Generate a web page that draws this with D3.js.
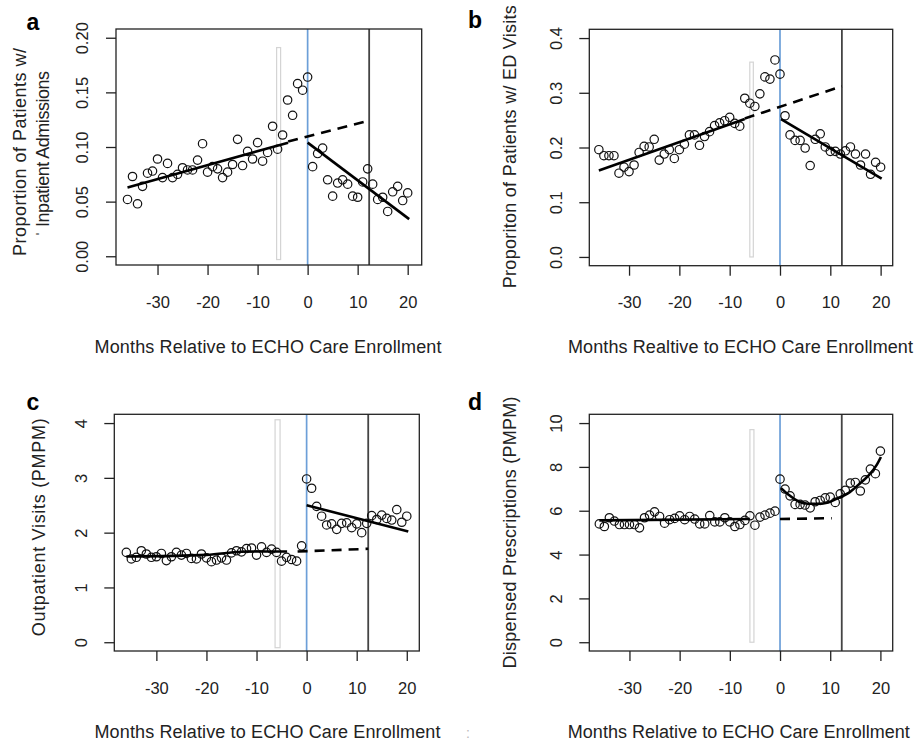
<!DOCTYPE html>
<meta charset="utf-8">
<style>
  body { margin: 0; background: #fff; }
  text { font-family: "Liberation Sans", Arial, sans-serif; fill: #222; }
  .tick text { font-size: 16.5px; }
  .tick line { stroke: #222; stroke-width: 1.3px; }
  .title { font-size: 18px; }
  .panel-label { font-size: 23px; font-weight: bold; fill: #000; }
  .frame { fill: none; stroke: #222; stroke-width: 1.3px; }
  .point { fill: none; stroke: #111; stroke-width: 1.2px; }
  .fit { fill: none; stroke: #000; stroke-width: 2.6px; }
  .dashed { stroke-dasharray: 10,7; }
</style>
<body>
<svg width="917" height="745"></svg>
<script src="https://d3js.org/d3.v7.min.js"></script>
<script>
// Miesiące względem zapisu do ECHO Care
const months = [-36, -35, -34, -33, -32, -31, -30, -29, -28, -27,
  -26, -25, -24, -23, -22, -21, -20, -19, -18, -17,
  -16, -15, -14, -13, -12, -11, -10, -9, -8, -7,
  -6, -5, -4, -3, -2, -1,
  0, 1, 2, 3, 4, 5, 6, 7, 8, 9, 10, 11, 12, 13, 14, 15, 16, 17, 18, 19, 20];

// a: hospitalizacje
const inpatient = [0.052, 0.073, 0.048, 0.064, 0.076, 0.078, 0.089, 0.072, 0.085, 0.072,
  0.075, 0.081, 0.079, 0.079, 0.088, 0.103, 0.077, 0.082, 0.080, 0.072,
  0.077, 0.084, 0.107, 0.083, 0.096, 0.089, 0.104, 0.087, 0.095, 0.119,
  0.098, 0.111, 0.143, 0.129, 0.158, 0.152,
  0.164, 0.082, 0.094, 0.099, 0.070, 0.055, 0.067, 0.070, 0.066, 0.055,
  0.054, 0.068, 0.080, 0.066, 0.052, 0.054, 0.041, 0.059, 0.064, 0.051, 0.058];
const inpatientPre = [[-36, 0.063], [-3.9, 0.104]];
const inpatientCf = [[-3.9, 0.105], [12.2, 0.124]];
const inpatientPost = [[0, 0.104], [20.3, 0.034]];

// b: wizyty na SOR
const edVisits = [0.196, 0.185, 0.185, 0.185, 0.153, 0.164, 0.156, 0.168, 0.191, 0.202,
  0.201, 0.215, 0.177, 0.188, 0.196, 0.180, 0.196, 0.206, 0.223, 0.223,
  0.204, 0.220, 0.229, 0.240, 0.245, 0.249, 0.255, 0.244, 0.239, 0.290,
  0.281, 0.275, 0.298, 0.329, 0.325, 0.360,
  0.334, 0.258, 0.223, 0.213, 0.213, 0.199, 0.167, 0.215, 0.225, 0.201,
  0.193, 0.193, 0.188, 0.194, 0.201, 0.188, 0.168, 0.188, 0.151, 0.173, 0.164];
const edPre = [[-36, 0.158], [-7, 0.252]];
const edCf = [[-7, 0.253], [12.3, 0.312]];
const edPost = [[0.2, 0.252], [20.2, 0.143]];

// c: wizyty ambulatoryjne
const outpatient = [1.64, 1.52, 1.55, 1.67, 1.61, 1.55, 1.56, 1.62, 1.49, 1.56,
  1.64, 1.59, 1.62, 1.53, 1.52, 1.61, 1.54, 1.47, 1.50, 1.54,
  1.50, 1.63, 1.67, 1.65, 1.71, 1.72, 1.59, 1.74, 1.64, 1.70,
  1.64, 1.48, 1.55, 1.51, 1.48, 1.76,
  2.98, 2.81, 2.48, 2.30, 2.14, 2.16, 2.06, 2.17, 2.18, 2.09,
  2.16, 2.00, 2.17, 2.31, 2.24, 2.32, 2.26, 2.23, 2.42, 2.19, 2.30];
const outpatientPre = [[-36, 1.565], [-20, 1.595], [-12, 1.655], [-3.9, 1.656]];
const outpatientCf = [[-1.8, 1.656], [12.3, 1.705]];
const outpatientPost = [[0, 2.50], [20.3, 2.02]];

// d: wydane recepty
const prescriptions = [5.40, 5.28, 5.68, 5.53, 5.37, 5.37, 5.37, 5.37, 5.22, 5.68,
  5.80, 5.95, 5.74, 5.43, 5.59, 5.65, 5.77, 5.59, 5.74, 5.62,
  5.40, 5.40, 5.78, 5.49, 5.49, 5.68, 5.49, 5.28, 5.37, 5.56,
  5.77, 5.34, 5.71, 5.80, 5.89, 5.98,
  7.44, 6.99, 6.68, 6.29, 6.29, 6.26, 6.13, 6.41, 6.47, 6.59,
  6.62, 6.38, 6.77, 6.93, 7.26, 7.29, 6.90, 7.41, 7.90, 7.69, 8.72];
const prescriptionsPre = [[-36, 5.56], [-6, 5.62]];
const prescriptionsCf = [[0, 5.62], [10.3, 5.66]];
const prescriptionsPost = [[0.2, 7.03], [1.7, 6.73], [3.7, 6.42], [5.6, 6.32], [7.6, 6.32],
  [9.6, 6.38], [11.6, 6.58], [13.6, 6.80], [15.6, 7.18], [17.6, 7.60], [19.3, 8.10], [20.1, 8.45]];

// Ticki osi
const xTicks = [-30, -20, -10, 0, 10, 20];
const yTicksA = [0, 0.05, 0.10, 0.15, 0.20];
const yTicksB = [0, 0.1, 0.2, 0.3, 0.4];
const yTicksC = [0, 1, 2, 3, 4];
const yTicksD = [0, 2, 4, 6, 8, 10];

// Linie pionowe: zapis (0) i 12 miesięcy
const enrollMonth = 0;
const yearMark = 12.3;

const svg = d3.select('svg');

// Ustawienia paneli (układ)
const panels = [
  { label: 'a', lx: 33, ly: 22, box: [116, 421.7, 29, 265], xd: [-38.3, 22.8], yd: [-0.008, 0.208],
    yTicks: yTicksA, fmt: d3.format('.2f'), values: inpatient,
    pre: inpatientPre, cf: inpatientCf, post: inpatientPost, band: [-6.2, -5.4, -0.003, 0.191],
    xTitle: { text: 'Months Relative to ECHO Care Enrollment', x: 268, y: 346.7, len: 347 },
    yTitles: [{ text: 'Proportion of Patients w/', x: 20, y: 152, len: 208 },
              { text: '\u02c8 Inpatient Admissions', x: 43, y: 154, len: 166 }] },
  { label: 'b', lx: 475, ly: 20, box: [589.3, 892.7, 29.3, 265.7], xd: [-37.9, 22.4], yd: [-0.016, 0.416],
    yTicks: yTicksB, fmt: d3.format('.1f'), values: edVisits,
    pre: edPre, cf: edCf, post: edPost, band: [-6.0, -5.3, 0.0, 0.356],
    xTitle: { text: 'Months Realtive to ECHO Care Enrollment', x: 740.5, y: 346.7, len: 345 },
    yTitles: [{ text: 'Proporiton of Patients w/ ED Visits', x: 510, y: 146.7, len: 283 }] },
  { label: 'c', lx: 33, ly: 402, box: [114.3, 419.3, 414.3, 651], xd: [-38.4, 22.5], yd: [-0.16, 4.16],
    yTicks: yTicksC, fmt: d3.format('d'), values: outpatient,
    pre: outpatientPre, cf: outpatientCf, post: outpatientPost, band: [-6.3, -5.3, -0.1, 4.06],
    xTitle: { text: 'Months Relative to ECHO Care Enrollment', x: 267.5, y: 731.7, len: 346 },
    yTitles: [{ text: 'Outpatient Visits (PMPM)', x: 38.3, y: 527.3, len: 218 }] },
  { label: 'd', lx: 475, ly: 402, box: [589.3, 892.7, 414.3, 651], xd: [-38.0, 22.45], yd: [-0.4, 10.4],
    yTicks: yTicksD, fmt: d3.format('d'), values: prescriptions,
    pre: prescriptionsPre, cf: prescriptionsCf, post: prescriptionsPost, band: [-6.0, -5.2, 0, 9.7],
    xTitle: { text: 'Months Relative to ECHO Care Enrollment', x: 738.8, y: 731.7, len: 342 },
    yTitles: [{ text: 'Dispensed Prescriptions (PMPM)', x: 510, y: 532.5, len: 272 }] }
];

panels.forEach(p => {
  const [l, r, t, b] = p.box;
  const x = d3.scaleLinear().domain(p.xd).range([l, r]);
  const y = d3.scaleLinear().domain(p.yd).range([b, t]);
  const g = svg.append('g');

  // Szary pasek przy -6 miesiącach
  g.append('rect')
    .attr('x', x(p.band[0])).attr('width', x(p.band[1]) - x(p.band[0]))
    .attr('y', y(p.band[3])).attr('height', y(p.band[2]) - y(p.band[3]))
    .attr('fill', 'none').attr('stroke', '#d4d4d4').attr('stroke-width', 1.2);

  // Linie pionowe
  g.append('line')
    .attr('x1', x(enrollMonth)).attr('x2', x(enrollMonth)).attr('y1', t).attr('y2', b)
    .attr('stroke', '#6c9fd8').attr('stroke-width', 1.7);
  g.append('line')
    .attr('x1', x(yearMark)).attr('x2', x(yearMark)).attr('y1', t).attr('y2', b)
    .attr('stroke', '#444').attr('stroke-width', 1.8);

  // Punkty
  g.selectAll('circle')
    .data(months.map((m, i) => [m, p.values[i]]))
    .enter().append('circle')
    .attr('class', 'point')
    .attr('r', 4.2)
    .attr('cx', d => x(d[0]))
    .attr('cy', d => y(d[1]));

  // Linie dopasowania
  const line = d3.line().x(d => x(d[0])).y(d => y(d[1])).curve(d3.curveMonotoneX);
  g.append('path').attr('class', 'fit').attr('d', line(p.pre));
  g.append('path').attr('class', 'fit dashed').attr('d', line(p.cf));
  g.append('path').attr('class', 'fit').attr('d', line(p.post));

  // Ramka
  g.append('rect').attr('class', 'frame')
    .attr('x', l).attr('y', t).attr('width', r - l).attr('height', b - t);

  // Oś X
  const xAxis = g.append('g')
    .attr('transform', `translate(0,${b})`)
    .call(d3.axisBottom(x).tickValues(xTicks).tickSize(10).tickFormat(d3.format('d')));
  xAxis.select('.domain').remove();
  xAxis.selectAll('text')
    .attr('y', 37).attr('dy', '0.35em')
    .text(d => String(d));

  // Oś Y z obróconymi etykietami
  const yAxis = g.append('g')
    .attr('transform', `translate(${l},0)`)
    .call(d3.axisLeft(y).tickValues(p.yTicks).tickSize(10).tickFormat(p.fmt));
  yAxis.select('.domain').remove();
  yAxis.selectAll('text')
    .attr('transform', 'rotate(-90)')
    .attr('x', 0).attr('y', -33.5).attr('dy', '0.35em')
    .attr('text-anchor', 'middle');

  // Tytuły osi
  g.append('text').attr('class', 'title')
    .attr('x', p.xTitle.x).attr('y', p.xTitle.y).attr('dy', '0.35em')
    .attr('text-anchor', 'middle')
    .attr('textLength', p.xTitle.len).attr('lengthAdjust', 'spacing')
    .text(p.xTitle.text);

  p.yTitles.forEach(yt => {
    g.append('text').attr('class', 'title')
      .attr('transform', `translate(${yt.x},${yt.y}) rotate(-90)`)
      .attr('dy', '0.35em')
      .attr('text-anchor', 'middle')
      .attr('textLength', yt.len).attr('lengthAdjust', 'spacing')
      .text(yt.text);
  });

  // Litera panelu
  g.append('text').attr('class', 'panel-label')
    .attr('x', p.lx).attr('y', p.ly).attr('dy', '0.35em')
    .attr('text-anchor', 'middle')
    .text(p.label);
});

// Drobny znak między panelami c i d
svg.append('text')
  .attr('x', 468).attr('y', 733)
  .attr('dy', '0.35em')
  .attr('text-anchor', 'middle')
  .attr('font-size', 14).style('fill', '#bbb')
  .text(':');
</script>
</body>
